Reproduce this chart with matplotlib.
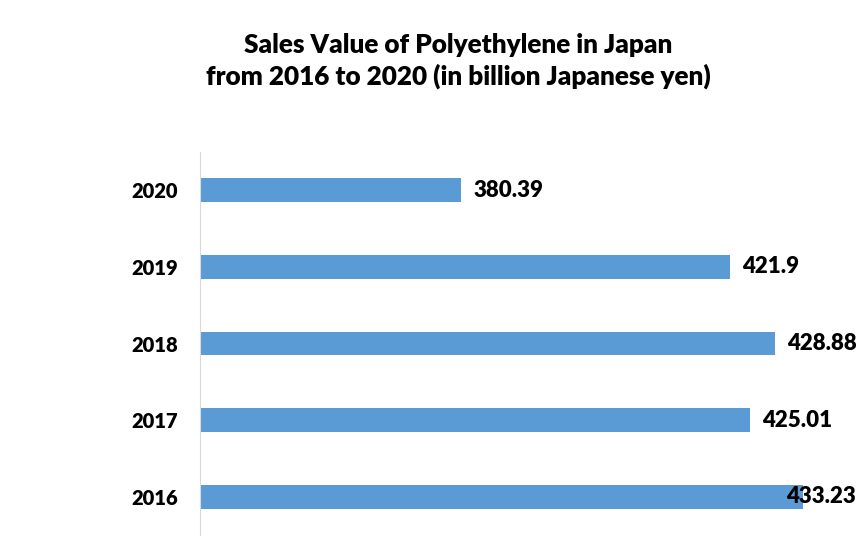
import matplotlib.pyplot as plt

#----------- Data -----------#
years = ['2016', '2017', '2018', '2019', '2020']
sales = [433.23, 425.01, 428.88, 421.9, 380.39]
labels = ['433.23', '425.01', '428.88', '421.9', '380.39']

plt.rcParams['font.family'] = ['Lato', 'DejaVu Sans']

#-----------     Plot     -----------#
fig = plt.figure(figsize=(8.61, 5.46), dpi=100)
ax = fig.add_axes([200/861, 11/546, 647/861, 383/546])

ypos = range(len(years))
ax.barh(ypos, sales, height=0.31, color='#5b9bd5', left=0)
ax.set_xlim(340, 440)
ax.set_ylim(-0.5, 4.5)

ax.set_yticks(list(ypos))
ax.set_yticklabels(years, fontsize=14.5, fontweight='heavy')
ax.tick_params(axis='y', length=0, pad=16)
ax.set_xticks([])

for s in ['top', 'right', 'bottom']:
    ax.spines[s].set_visible(False)
ax.spines['left'].set_color('#d9d9d9')

#value labels (the longest bar's label gets pushed back inside the chart)
for i, (v, t) in enumerate(zip(sales, labels)):
    off = -12.5 if v == max(sales) else 8.5
    ax.annotate(t, (v, i), xytext=(off, 0), textcoords='offset points',
                va='center', ha='left', fontsize=16, fontweight='heavy')

fig.text(458/861, 1 - 61/546,
         'Sales Value of Polyethylene in Japan\nfrom 2016 to 2020 (in billion Japanese yen)',
         ha='center', va='center', fontsize=18.8, fontweight='heavy', linespacing=1.3)

plt.savefig('out.png', dpi=100)
